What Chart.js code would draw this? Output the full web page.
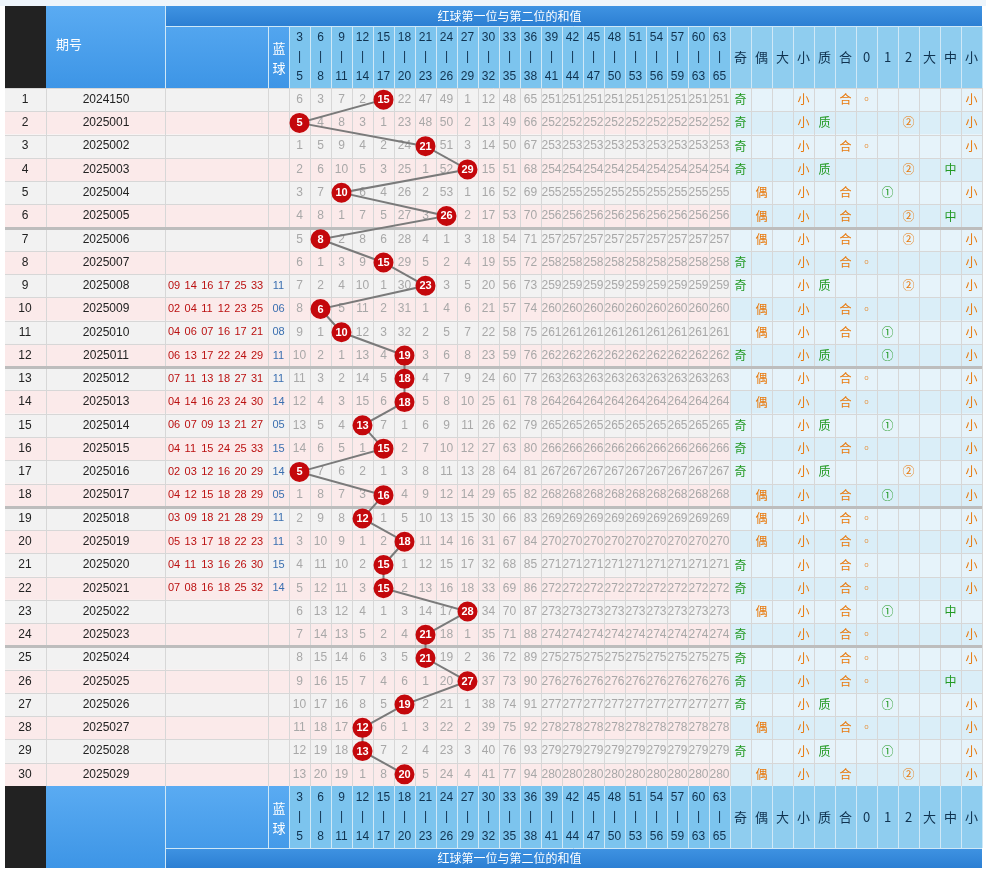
<!DOCTYPE html>
<html><head><meta charset="utf-8">
<script src="https://cdn.jsdelivr.net/npm/chart.js@4"></script>
<style>html,body{margin:0;padding:0;background:#fff}#c{display:block}</style>
</head><body>
<div style="width:986px;height:871px"><canvas id="c"></canvas></div>
<script>
// sum of first and second red ball, rows 1..30
const sums = [15,5,21,29,10,26,8,15,23,6,10,19,18,18,13,15,5,16,12,18,15,15,28,21,21,27,19,12,13,20];
const issues = ['2024150','2025001','2025002','2025003','2025004','2025005','2025006','2025007','2025008','2025009','2025010','2025011','2025012','2025013','2025014','2025015','2025016','2025017','2025018','2025019','2025020','2025021','2025022','2025023','2025024','2025025','2025026','2025027','2025028','2025029'];
const reds = ['','','','','','','','','09 14 16 17 25 33','02 04 11 12 23 25','04 06 07 16 17 21','06 13 17 22 24 29','07 11 13 18 27 31','04 14 16 23 24 30','06 07 09 13 21 27','04 11 15 24 25 33','02 03 12 16 20 29','04 12 15 18 28 29','03 09 18 21 28 29','05 13 17 18 22 23','04 11 13 16 26 30','07 08 16 18 25 32','','','','','','','',''];
const blues = ['','','','','','','','','11','06','08','11','11','14','05','15','14','05','11','11','15','14','','','','','','','',''];
const binStarts = [3,6,9,12,15,18,21,24,27,30,33,36,39,42,45,48,51,54,57,60,63];
const binEnds = [5,8,11,14,17,20,23,26,29,32,35,38,41,44,47,50,53,56,59,63,65];
const firstRowMiss = [6,3,7,2,0,22,47,49,1,12,48,65,251,251,251,251,251,251,251,251,251];
const attrHeads = ['奇','偶','大','小','质','合','0','1','2','大','中','小'];

const L = 289, R = 730, TOP = 88, BOT = 786, W = 986, H = 871;
const colW = (R - L) / 21, rowH = (BOT - TOP) / 30, aW = (W - 4 - R) / 12;
const bin = v => Math.floor((v - 3) / 3);
const isPrime = n => { if (n < 2) return false; for (let i = 2; i * i <= n; i++) if (n % i === 0) return false; return true; };

// omission table derived from first row and the hits
const miss = [];
sums.forEach((s, r) => {
  miss.push(binStarts.map((_, c) => {
    if (bin(s) === c) return 0;
    return r === 0 ? firstRowMiss[c] : miss[r - 1][c] + 1;
  }));
});

function attrs(s) {
  const o = new Array(12).fill(null);
  const green = '#239a23', orange = '#e8790c';
  if (s % 2) o[0] = ['奇', green]; else o[1] = ['偶', orange];
  if (s > 33) o[2] = ['大', green]; else o[3] = ['小', orange];
  if (isPrime(s)) o[4] = ['质', green]; else o[5] = ['合', orange];
  const m = s % 3;
  o[6 + m] = [['◦', '①', '②'][m], m === 1 ? green : orange];
  if (s >= 45) o[9] = ['大', green]; else if (s >= 24) o[10] = ['中', green]; else o[11] = ['小', orange];
  return o;
}

function blueGrad(ctx, y0, y1, c0, c1) {
  const g = ctx.createLinearGradient(0, y0, 0, y1);
  g.addColorStop(0, c0); g.addColorStop(1, c1); return g;
}

function drawHeader(ctx, y0, flip) {
  const titleY = flip ? y0 + 62 : y0, colY = flip ? y0 : y0 + 20, colH = 62;
  ctx.fillStyle = '#222'; ctx.fillRect(5, y0, 41, 82);
  ctx.fillStyle = blueGrad(ctx, y0, y0 + 82, '#5aabf2', '#3d95e6'); ctx.fillRect(46, y0, 243, 82);
  ctx.fillStyle = blueGrad(ctx, titleY, titleY + 20, '#3f93e2', '#2c7fd3');
  ctx.fillRect(L, titleY, W - 4 - L, 20);
  ctx.fillRect(165, titleY, 124, 20);
  ctx.fillStyle = '#7cc4ee'; ctx.fillRect(L, colY, R - L, colH);
  ctx.fillStyle = '#8fcdef'; ctx.fillRect(R, colY, W - 4 - R, colH);
  ctx.strokeStyle = '#cfe8f7'; ctx.lineWidth = 1;
  ctx.beginPath();
  for (let c = 0; c <= 21; c++) { ctx.moveTo(L + c * colW + .5, colY); ctx.lineTo(L + c * colW + .5, colY + colH); }
  for (let c = 0; c <= 12; c++) { ctx.moveTo(R + c * aW + .5, colY); ctx.lineTo(R + c * aW + .5, colY + colH); }
  ctx.moveTo(165.5, y0); ctx.lineTo(165.5, y0 + 82);
  ctx.moveTo(268.5, colY); ctx.lineTo(268.5, colY + colH);
  ctx.moveTo(165, (flip ? titleY : colY) + .5); ctx.lineTo(W - 4, (flip ? titleY : colY) + .5);
  ctx.stroke();
  ctx.fillStyle = '#fff'; ctx.textAlign = 'center'; ctx.textBaseline = 'middle';
  ctx.font = '12px "Noto Sans CJK SC"';
  ctx.fillText('红球第一位与第二位的和值', (L + R) / 2, titleY + 10);
  ctx.font = '13px "Noto Sans CJK SC"';
  ctx.fillText('蓝', 279, colY + 22); ctx.fillText('球', 279, colY + 42);
  if (!flip) { ctx.textAlign = 'left'; ctx.fillText('期号', 56, colY + 18); ctx.textAlign = 'center'; }
  ctx.font = '12px Arial, "Liberation Sans"';
  binStarts.forEach((b, c) => {
    const x = L + (c + .5) * colW;
    ctx.fillStyle = '#10324f';
    ctx.fillText(b, x, colY + 12); ctx.fillText('|', x, colY + 31); ctx.fillText(binEnds[c], x, colY + 51);
  });
  ctx.fillStyle = '#10324f'; ctx.font = '13px "Noto Sans CJK SC"';
  attrHeads.forEach((t, i) => ctx.fillText(t, R + (i + .5) * aW, colY + 31));
}

const tablePlugin = {
  id: 'table',
  beforeDraw(chart) {
    const ctx = chart.ctx;
    ctx.save();
    ctx.fillStyle = '#fff'; ctx.fillRect(0, 0, W, H);
    ctx.fillStyle = '#eef5fb'; ctx.fillRect(0, 0, W, 6);
    drawHeader(ctx, 6, false);
    for (let r = 0; r < 30; r++) {
      const y = TOP + r * rowH;
      ctx.fillStyle = r % 2 ? '#fbeaea' : '#f2f2f2'; ctx.fillRect(5, y, R - 5, rowH);
      ctx.fillStyle = r % 2 ? '#daeef8' : '#e6f3fa'; ctx.fillRect(R, y, W - 4 - R, rowH);
    }
    ctx.strokeStyle = '#d7d7d7'; ctx.lineWidth = 1; ctx.beginPath();
    for (let r = 0; r <= 30; r++) { const y = Math.round(TOP + r * rowH) + .5; ctx.moveTo(5, y); ctx.lineTo(W - 4, y); }
    [46, 165, 268].forEach(x => { ctx.moveTo(x + .5, TOP); ctx.lineTo(x + .5, BOT); });
    for (let c = 0; c <= 21; c++) { const x = Math.round(L + c * colW) + .5; ctx.moveTo(x, TOP); ctx.lineTo(x, BOT); }
    for (let c = 0; c <= 12; c++) { const x = Math.round(R + c * aW) + .5; ctx.moveTo(x, TOP); ctx.lineTo(x, BOT); }
    ctx.stroke();
    ctx.fillStyle = '#bdbdbd';
    [6, 12, 18, 24].forEach(r => ctx.fillRect(5, Math.round(TOP + r * rowH) - 1, W - 9, 3));
    ctx.textBaseline = 'middle'; ctx.textAlign = 'center';
    for (let r = 0; r < 30; r++) {
      const cy = TOP + (r + .5) * rowH;
      ctx.font = '12px Arial, "Liberation Sans"'; ctx.fillStyle = '#222';
      ctx.fillText(r + 1, 25, cy);
      ctx.fillText(issues[r], 106, cy);
      ctx.font = '11px Arial, "Liberation Sans"'; ctx.fillStyle = '#b11';
      ctx.textAlign = 'left';
      reds[r].split(' ').forEach((n, k) => ctx.fillText(n, 168 + k * 16.6, cy));
      ctx.textAlign = 'center';
      ctx.fillStyle = '#3a6fb0'; ctx.fillText(blues[r], 278.5, cy);
      ctx.font = '12px Arial, "Liberation Sans"'; ctx.fillStyle = '#a8a8a8';
      miss[r].forEach((m, c) => { if (m) ctx.fillText(m, L + (c + .5) * colW, cy); });
      ctx.font = '12px "Noto Sans CJK SC"';
      attrs(sums[r]).forEach((a, i) => {
        if (!a) return;
        ctx.fillStyle = a[1]; ctx.fillText(a[0], R + (i + .5) * aW, cy);
      });
    }
    drawHeader(ctx, BOT, true);
    ctx.restore();
  },
  afterDatasetsDraw(chart) {
    const ctx = chart.ctx, meta = chart.getDatasetMeta(0);
    ctx.save();
    ctx.fillStyle = '#fff'; ctx.font = 'bold 11px Arial, "Liberation Sans"';
    ctx.textAlign = 'center'; ctx.textBaseline = 'middle';
    meta.data.forEach((p, i) => ctx.fillText(sums[i], p.x, p.y + .5));
    ctx.restore();
  }
};

new Chart(document.getElementById('c'), {
  type: 'line',
  plugins: [tablePlugin],
  data: {
    datasets: [{
      data: sums.map((s, i) => ({ x: bin(s), y: i + 1 })),
      borderColor: '#7a7a7a', borderWidth: 2,
      pointRadius: 9, pointHoverRadius: 9,
      pointBackgroundColor: '#c4080c', pointBorderColor: '#c4080c',
      tension: 0
    }]
  },
  options: {
    animation: false, responsive: true, maintainAspectRatio: false,
    layout: { padding: { left: L, right: W - R, top: TOP, bottom: H - BOT } },
    plugins: { legend: { display: false }, tooltip: { enabled: false } },
    scales: {
      x: { type: 'linear', min: -0.5, max: 20.5, display: false },
      y: { type: 'linear', min: 0.5, max: 30.5, reverse: true, display: false }
    }
  }
});
</script>
</body></html>
